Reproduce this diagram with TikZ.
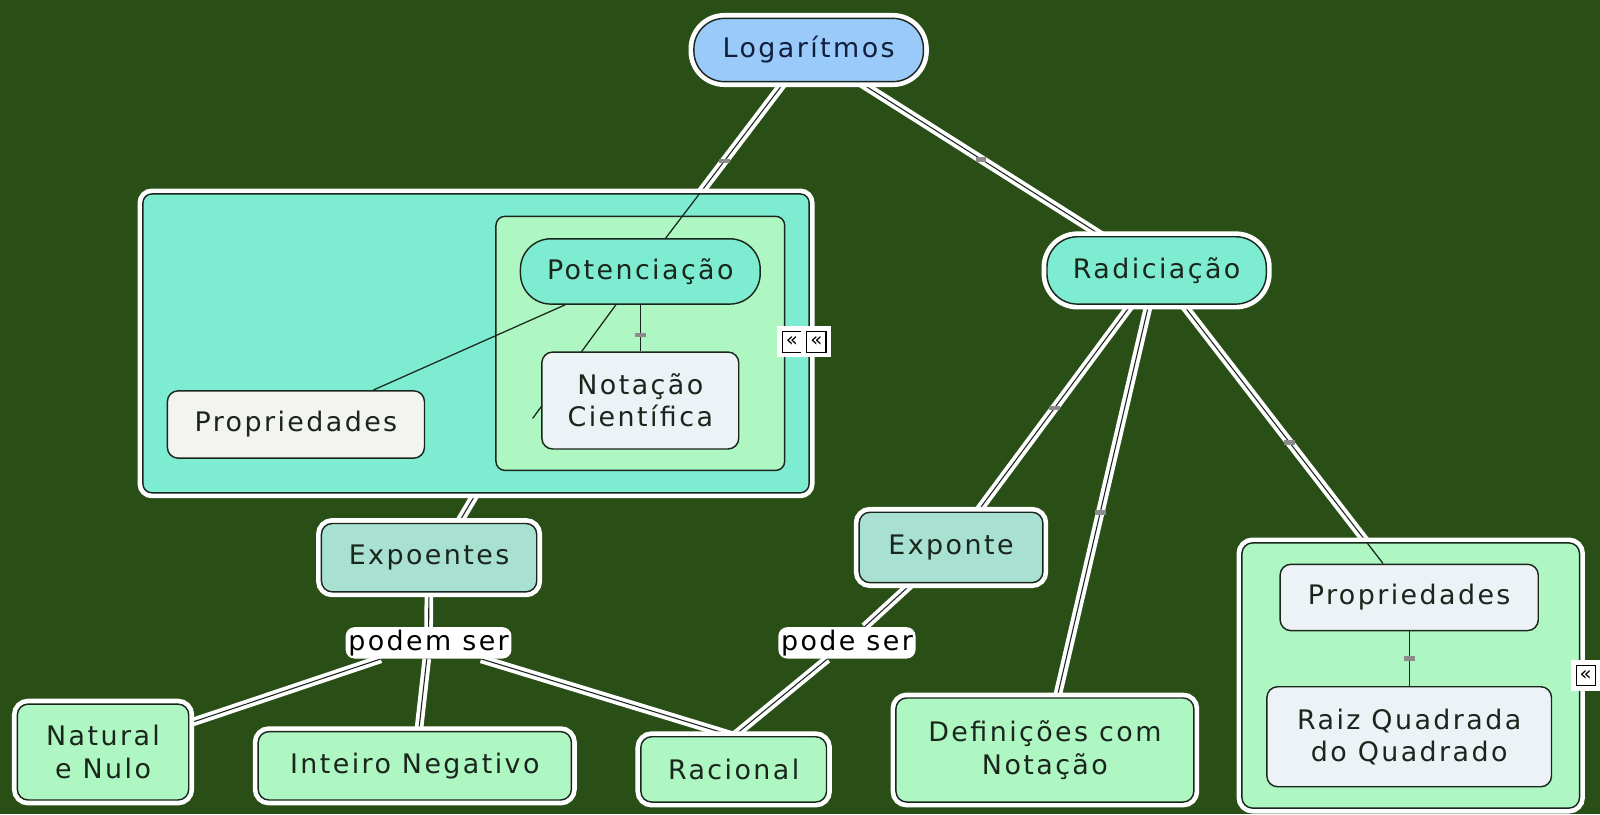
\documentclass[tikz,border=0pt]{standalone}
\usepackage{fontspec}
\setmainfont[LetterSpace=9]{DejaVu Sans}
\usepackage{tikz}
\usetikzlibrary{decorations.markings}
\definecolor{bggreen}{RGB}{41,79,23}
\definecolor{tealfill}{RGB}{126,236,208}
\definecolor{mintfill}{RGB}{174,246,194}
\definecolor{palefill}{RGB}{243,243,239}
\definecolor{cloudfill}{RGB}{236,242,245}
\definecolor{sagefill}{RGB}{168,224,210}
\definecolor{skyfill}{RGB}{153,202,250}
\definecolor{inkdark}{RGB}{26,38,28}
\definecolor{inknavy}{RGB}{18,30,60}
\definecolor{tickgray}{RGB}{140,140,140}
\pgfdeclarelayer{backdrop}
\pgfdeclarelayer{links}
\pgfsetlayers{backdrop,links,main}
\tikzset{
    halo/.style={preaction={draw=white, line width=6pt}},
    concept/.style={draw=inkdark, line width=0.8pt, rounded corners=6pt, text=inkdark,
        align=center, inner sep=0pt, font=\fontsize{15}{18}\selectfont},
    pill/.style={concept, rounded corners=17pt},
    link/.style={draw=inkdark, line width=0.6pt, preaction={draw=white, line width=4.8pt}},
    thinlink/.style={draw=inkdark, line width=0.7pt},
    phrase/.style={fill=white, rounded corners=5pt, text=black, inner sep=1.5pt,
        font=\fontsize{15}{18}\selectfont},
    fold/.style={draw=black, fill=white, line width=0.6pt, inner sep=0pt,
        minimum width=0.38cm, minimum height=0.4cm, font=\fontsize{11}{11}\selectfont}
}
\tikzset{midtick/.style={decoration={
    markings,
    mark=at position #1 with {\pgftransformresetnontranslations
        \fill[tickgray] (-3pt,-1.3pt) rectangle (3pt,1.3pt);}},postaction={decorate}},
    midtick/.default=.5}

\begin{document}
\begin{tikzpicture}[x=0.02cm, y=-0.02cm]

            \begin{pgfonlayer}{backdrop}
                \fill[bggreen] (0,0) rectangle (1568,798);
            \end{pgfonlayer}
            \useasboundingbox (0,0) rectangle (1568,798);

            % groups
            \node[concept, halo, fill=tealfill, rounded corners=5pt, minimum width=13.06cm, minimum height=5.86cm] (potgroup) at (466.5,336.5) {};
            \node[concept, fill=mintfill, rounded corners=5pt, minimum width=5.66cm, minimum height=4.98cm] (potinner) at (627.5,336.5) {};
            \node[concept, halo, fill=mintfill, minimum width=6.62cm, minimum height=5.2cm] (radgroup) at (1382.5,662) {};
            \node[fold, halo] (fold1) at (776,335) {«};
            \node[fold, halo] (fold2) at (800,335) {«};
            \node[fold, halo] (fold3) at (1554,662) {«};

            % concepts
            \node[pill, halo, fill=skyfill, text=inknavy, minimum width=4.5cm, minimum height=1.24cm] (logo) at (792.5,49) {Logarítmos};
            \node[pill, fill=tealfill, minimum width=4.7cm, minimum height=1.28cm] (pot) at (627.5,266) {Potenciação};
            \node[pill, halo, fill=tealfill, minimum width=4.3cm, minimum height=1.32cm] (rad) at (1133.5,265) {Radiciação};
            \node[concept, fill=palefill, minimum width=5.04cm, minimum height=1.32cm] (propl) at (290,416) {Propriedades};
            \node[concept, halo, fill=sagefill, minimum width=4.22cm, minimum height=1.34cm] (expoentes) at (420.5,546.5) {Expoentes};
            \node[concept, halo, fill=sagefill, minimum width=3.6cm, minimum height=1.38cm] (exponte) at (932,536.5) {Exponte};
            \node[concept, halo, fill=mintfill, minimum width=3.36cm, minimum height=1.88cm] (natural) at (101,737) {Natural\\e Nulo};
            \node[concept, halo, fill=mintfill, minimum width=6.14cm, minimum height=1.34cm] (inteiro) at (406.5,750.5) {Inteiro Negativo};
            \node[concept, halo, fill=mintfill, minimum width=3.64cm, minimum height=1.28cm] (racional) at (719,754) {Racional};
            \node[concept, halo, fill=mintfill, minimum width=5.84cm, minimum height=2.04cm] (defin) at (1024,735) {Definições com\\Notação};
            \node[concept, fill=cloudfill, minimum width=5.06cm, minimum height=1.3cm] (propr) at (1381,585.5) {Propriedades};
            \node[phrase] (podem) at (420,630) {podem ser};
            \node[phrase] (pode) at (830,630) {pode ser};

            \coordinate (potin) at (intersection of logo--pot and potgroup.north west--potgroup.north east);
            \coordinate (radin) at (intersection of rad--propr and radgroup.north west--radgroup.north east);
            \coordinate (stub) at (522,410);

            % lines inside the groups
            \draw[thinlink] (potin) -- (pot);
            \draw[thinlink] (pot) -- (propl);
            \draw[thinlink] (pot) -- (stub);
            \draw[thinlink] (radin) -- (propr);

            \node[concept, fill=cloudfill, minimum width=3.86cm, minimum height=1.9cm] (nota) at (627.5,392.5) {Notação\\Científica};
            \node[concept, fill=cloudfill, minimum width=5.58cm, minimum height=1.96cm] (raiz) at (1381,722) {Raiz Quadrada\\do Quadrado};

            \draw[thinlink, midtick=.65] (pot.south) -- (nota.north);
            \draw[thinlink, midtick] (propr.south) -- (raiz.north);

            % links between the groups
            \begin{pgfonlayer}{links}
                \draw[link, midtick=.71] (logo) -- (potin);
                \draw[link, midtick] (logo) -- (rad);
                \draw[link, midtick] (rad) -- (exponte);
                \draw[link, midtick=.53] (rad) -- (defin);
                \draw[link, midtick=.58] (rad) -- (radin);
                \draw[link] (potgroup.south) -- ([xshift=0.58cm]expoentes.north);
                \draw[link] (expoentes) -- (podem);
                \draw[link] (podem) -- (natural);
                \draw[link] (podem) -- (inteiro);
                \draw[link] (podem) -- (racional.north);
                \draw[link] (exponte) -- (pode);
                \draw[link] (pode) -- (racional.north);
            \end{pgfonlayer}

        \end{tikzpicture}
\end{document}
